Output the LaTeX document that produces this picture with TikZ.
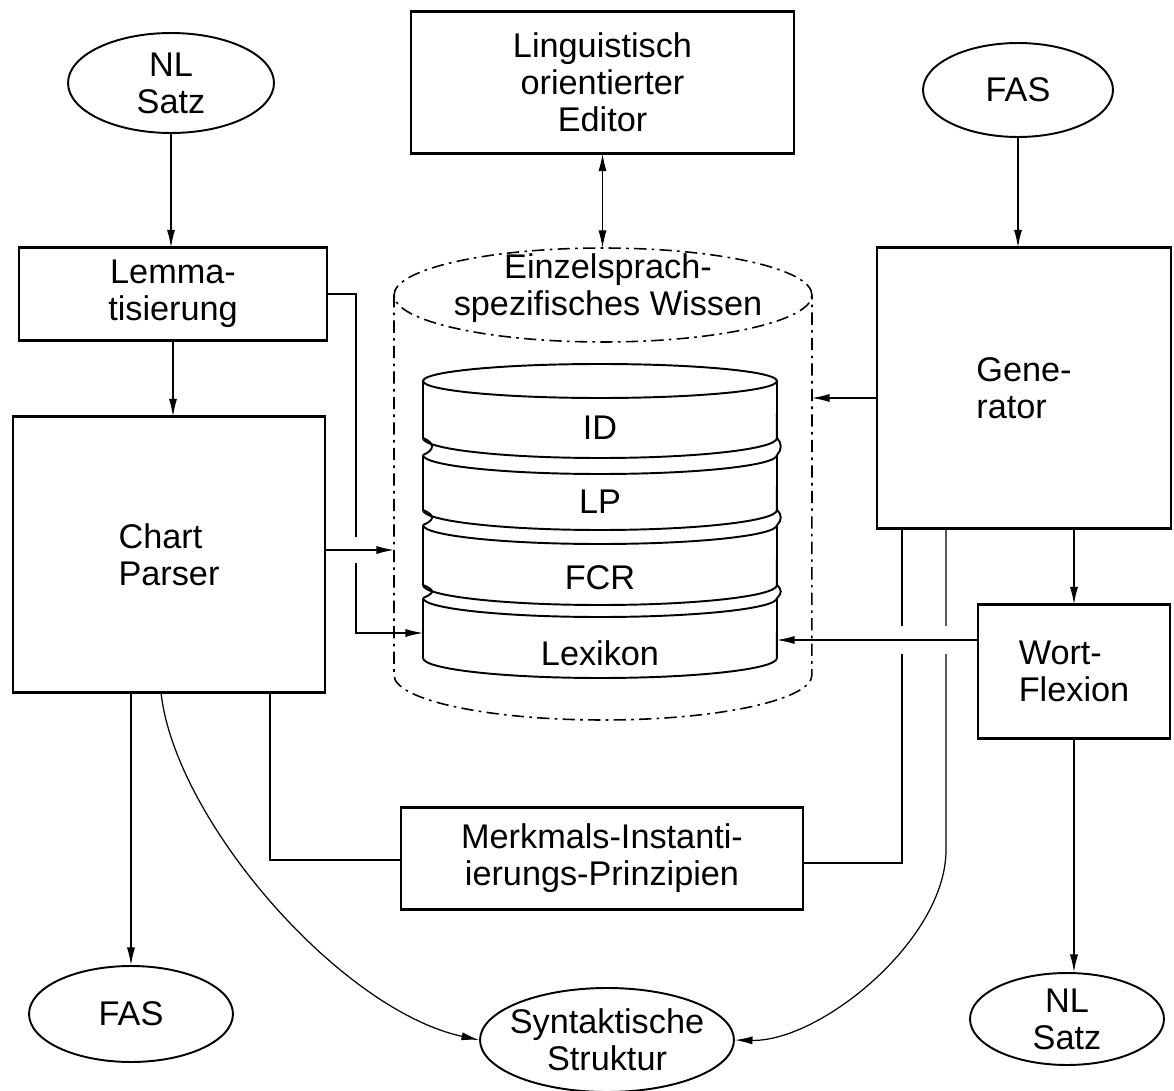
\documentclass[tikz,border=0pt]{standalone}
\usepackage{fontspec}
\setmainfont{Liberation Sans}
\usetikzlibrary{arrows.meta,shapes.geometric}
\begin{document}
\begin{tikzpicture}[x=0.02cm,y=-0.02cm,
  font=\fontsize{19.5}{21}\selectfont,
  box/.style={draw=black, line width=0.7pt, rectangle, inner sep=0pt, align=center},
  oval/.style={draw=black, line width=1.1pt, ellipse, inner sep=-10pt, align=center},
  lbl/.style={align=center, inner sep=0pt},
  conn/.style={line width=0.7pt},
  arr/.style={conn, -{Latex[length=10pt,width=4.6pt]}},
  dbl/.style={conn, {Latex[length=10pt,width=4.6pt]}-{Latex[length=10pt,width=4.6pt]}},
  dashdot/.style={line width=0.9pt, dash pattern=on 7pt off 3pt on 1.5pt off 3pt},
  disk/.style={line width=1.1pt},
  hedge/.style={line width=1.7pt}
]
\useasboundingbox (0,0) rectangle (1174,1091);

% boxes
\node[box, minimum width=7.66cm, minimum height=2.82cm] (editor) at (602.5,82.5) {Linguistisch\\orientierter\\Editor};
\node[box, minimum width=6.16cm, minimum height=1.84cm] (lemma) at (173,294) {Lemma-\\tisierung};
\node[box, minimum width=6.24cm, minimum height=5.5cm, align=left] (chart) at (169,554.5) {Chart\\Parser};
\node[box, minimum width=5.88cm, minimum height=5.6cm, align=left] (gen) at (1024,388) {Gene-\\rator};
\node[box, minimum width=3.84cm, minimum height=2.66cm, align=left] (wort) at (1074,671.5) {Wort-\\Flexion};
\node[box, minimum width=8.04cm, minimum height=2.02cm] (merk) at (602,858.5) {Merkmals-Instanti-\\ierungs-Prinzipien};
\foreach \n in {editor,lemma,chart,gen,wort,merk}{
  \draw[hedge] (\n.north west) -- (\n.north east);
  \draw[hedge] (\n.south west) -- (\n.south east);
}

% ellipses
\node[oval, minimum width=4.12cm, minimum height=2cm] (nl1) at (171,83) {NL\\Satz};
\node[oval, minimum width=3.8cm, minimum height=1.88cm] (fas1) at (1018,90) {FAS};
\node[oval, minimum width=4.08cm, minimum height=1.92cm] (fas2) at (131,1014) {FAS};
\node[oval, minimum width=5.08cm, minimum height=2.08cm] (syn) at (607,1040) {Syntaktische\\Struktur};
\node[oval, minimum width=3.88cm, minimum height=1.84cm] (nl2) at (1067,1019) {NL\\Satz};

% named points on the knowledge cylinders
\coordinate (cylT) at (602.5,248);
\coordinate (cylL) at (394,550);
\coordinate (cylR) at (812,398);
\coordinate (stackL) at (423,633);
\coordinate (stackR) at (777,640);
\coordinate (lk) at (356,294);
\coordinate (gm) at (902,863);
\coordinate (gs) at (946,850);
\coordinate (cm) at (270,860);
\coordinate (cs) at (161,700);

% vertical connectors
\draw[arr] (nl1.south) -- (nl1.south |- lemma.north);
\draw[arr] (lemma.south) -- (lemma.south |- chart.north);
\draw[dbl] (editor.south) -- (cylT);
\draw[arr] (fas1.south) -- (fas1.south |- gen.north);
\draw[arr] (gen.south -| wort.north) -- (wort.north);
\draw[arr] (wort.south) -- (wort.south |- nl2.north);
\draw[arr] (fas2.north |- chart.south) -- (fas2.north);

% routed connectors
\draw[arr] (lemma.east) -- (lk) |- (stackL);
\draw[conn] (gen.south -| gm) -- (gm) -- (merk.east |- gm);
\draw[arr] (gen.south -| gs) -- (gs) .. controls (946,940) and (820,1042) .. (syn.east);
\draw[conn] (chart.south -| cm) -- (cm) -- (merk.west |- cm);
\draw[arr] (chart.south -| cs) .. controls (175,820) and (340,1010) .. (syn.west);

% crossing gaps
\fill[white] (349,537) rectangle (363,563);
\fill[white] (895,626) rectangle (953,654);

% horizontal arrows
\draw[arr] (chart.east |- cylL) -- (cylL);
\draw[arr] (gen.west |- cylR) -- (cylR);
\draw[arr] (wort.west |- stackR) -- (stackR);

% outer dashed cylinder
\draw[dashdot] (603,295) ellipse [x radius=4.18cm, y radius=0.94cm];
\draw[dashdot] (394,295) -- (394,675) arc[start angle=180,end angle=360,x radius=4.18cm,y radius=0.9cm] -- (812,295);
\node[lbl] (wissen) at (608,288) {Einzelsprach-\\spezifisches Wissen};

% stack of disks
\begin{scope}[disk]
\draw (600,381) ellipse [x radius=3.54cm, y radius=0.34cm];
\foreach \yt/\yb in {381/438, 455/510, 525/585, 598/658}{
  \draw (423,\yt) -- (423,\yb) arc[start angle=180,end angle=360,x radius=3.54cm,y radius=0.4cm] -- (777,\yt);
}
\foreach \yt in {455,525,598}{
  \draw (423,\yt) arc[start angle=180,end angle=360,x radius=3.54cm,y radius=0.38cm];
}
\foreach \yb/\yt in {438/455, 510/525, 585/598}{
  \draw (423,\yb) .. controls (435,\yb+5) and (435,\yt-5) .. (423,\yt);
  \draw (777,\yb) .. controls (782,\yb+5) and (782,\yt-5) .. (777,\yt);
}
\end{scope}
\node[lbl] (id) at (600,428) {ID};
\node[lbl] (lp) at (600,502) {LP};
\node[lbl] (fcr) at (600,578) {FCR};
\node[lbl] (lex) at (600,653) {Lexikon};
\end{tikzpicture}
\end{document}
